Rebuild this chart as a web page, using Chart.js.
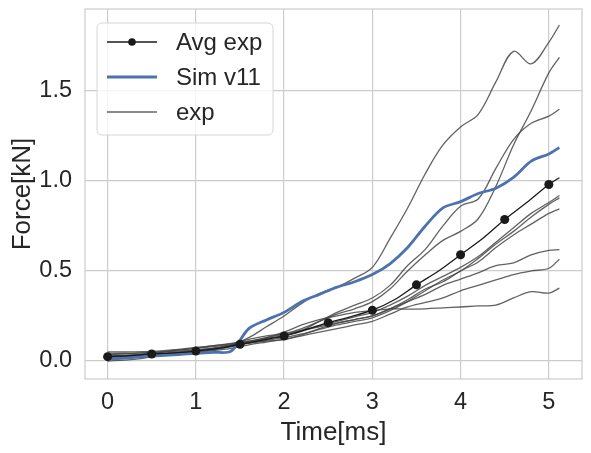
<!DOCTYPE html>
<html>
<head>
<meta charset="utf-8">
<script src="https://cdn.jsdelivr.net/npm/chart.js@4.4.0/dist/chart.umd.min.js"></script>
<style>
  html, body { margin: 0; padding: 0; background: #ffffff; }
</style>
</head>
<body>
<canvas id="forceChart" width="591" height="453"></canvas>
<script>
// time axes [ms]
const timeExp = [0, 0.2, 0.4, 0.6, 0.8, 1.0, 1.2, 1.4, 1.6, 1.8, 2.0, 2.2, 2.4, 2.6, 2.8,
                 3.0, 3.2, 3.4, 3.6, 3.8, 4.0, 4.2, 4.4, 4.6, 4.8, 5.0, 5.12];
const timeAvg = [0, 0.25, 0.5, 0.75, 1.0, 1.25, 1.5, 1.75, 2.0, 2.25, 2.5, 2.75,
                 3.0, 3.25, 3.5, 3.75, 4.0, 4.25, 4.5, 4.75, 5.0, 5.12];

// force [kN]
const avgExp = [0.024, 0.03, 0.039, 0.045, 0.055, 0.07, 0.093, 0.115, 0.139, 0.175, 0.213, 0.245,
                0.282, 0.34, 0.423, 0.5, 0.59, 0.68, 0.786, 0.88, 0.98, 1.018];
const simV11 = [0.01, 0.016, 0.024, 0.03, 0.036, 0.043, 0.048, 0.055, 0.18, 0.228, 0.27, 0.33, 0.37, 0.41, 0.44,
                0.48, 0.54, 0.63, 0.75, 0.85, 0.885, 0.93, 0.96, 1.02, 1.11, 1.15, 1.185];
const expRuns = [
  [0.03, 0.032, 0.036, 0.042, 0.05, 0.06, 0.072, 0.088, 0.13, 0.19, 0.25, 0.32, 0.375, 0.41, 0.46,
   0.52, 0.68, 0.85, 1.04, 1.2, 1.30, 1.37, 1.55, 1.72, 1.65, 1.77, 1.866],
  [0.05, 0.05, 0.052, 0.056, 0.065, 0.075, 0.085, 0.095, 0.11, 0.13, 0.15, 0.18, 0.22, 0.26, 0.29,
   0.33, 0.40, 0.50, 0.59, 0.67, 0.72, 0.79, 0.97, 1.2, 1.39, 1.6, 1.686],
  [0.02, 0.025, 0.03, 0.036, 0.045, 0.055, 0.068, 0.085, 0.105, 0.125, 0.14, 0.17, 0.22, 0.27, 0.31,
   0.35, 0.42, 0.53, 0.62, 0.75, 0.86, 0.90, 1.07, 1.23, 1.32, 1.36, 1.398],
  [0.01, 0.015, 0.025, 0.035, 0.045, 0.055, 0.068, 0.09, 0.11, 0.125, 0.14, 0.165, 0.195, 0.22, 0.245,
   0.27, 0.31, 0.36, 0.42, 0.47, 0.52, 0.58, 0.66, 0.74, 0.82, 0.88, 0.919],
  [0.0, 0.005, 0.015, 0.03, 0.04, 0.05, 0.062, 0.08, 0.1, 0.115, 0.13, 0.15, 0.175, 0.2, 0.22,
   0.24, 0.28, 0.33, 0.39, 0.45, 0.50, 0.57, 0.65, 0.72, 0.80, 0.87, 0.906],
  [0.04, 0.042, 0.045, 0.05, 0.06, 0.07, 0.08, 0.09, 0.1, 0.11, 0.12, 0.145, 0.18, 0.21, 0.23,
   0.25, 0.29, 0.34, 0.40, 0.44, 0.50, 0.55, 0.63, 0.70, 0.76, 0.82, 0.845],
  [0.025, 0.03, 0.038, 0.048, 0.06, 0.072, 0.085, 0.098, 0.12, 0.14, 0.15, 0.17, 0.19, 0.21, 0.23,
   0.25, 0.29, 0.33, 0.37, 0.42, 0.455, 0.49, 0.53, 0.545, 0.59, 0.615, 0.618],
  [0.015, 0.02, 0.025, 0.032, 0.04, 0.048, 0.058, 0.07, 0.09, 0.105, 0.12, 0.14, 0.16, 0.18, 0.2,
   0.22, 0.26, 0.30, 0.325, 0.35, 0.39, 0.42, 0.45, 0.48, 0.50, 0.515, 0.565],
  [0.035, 0.04, 0.045, 0.05, 0.055, 0.062, 0.07, 0.08, 0.1, 0.13, 0.16, 0.2, 0.23, 0.25, 0.27,
   0.28, 0.29, 0.288, 0.29, 0.295, 0.30, 0.306, 0.31, 0.35, 0.385, 0.377, 0.405]
];

const xTicks = [0, 1, 2, 3, 4, 5];
const yTicks = [0, 0.5, 1.0, 1.5];

const FONT = '"Liberation Sans", Arial, sans-serif';
const TEXT = '#262626';
const GRID = '#cccccc';
const EXP_COLOR = 'rgba(70,70,70,0.85)';
const SIM_COLOR = '#4c72b0';
const AVG_COLOR = '#1a1a1a';

const pairs = (xs, ys) => xs.map((t, i) => ({x: t, y: ys[i]}));

const datasets = [
  {
    label: 'Avg exp',
    data: pairs(timeAvg, avgExp),
    borderColor: AVG_COLOR,
    backgroundColor: AVG_COLOR,
    borderWidth: 1.3,
    pointRadius: ctx => ((timeAvg[ctx.dataIndex] * 2) % 1 === 0 ? 4.5 : 0),
    pointBorderWidth: 0,
    tension: 0.3,
    order: 0
  },
  {
    label: 'Sim v11',
    data: pairs(timeExp, simV11),
    borderColor: SIM_COLOR,
    borderWidth: 2.8,
    pointRadius: 0,
    tension: 0.3,
    order: 1
  }
];
expRuns.forEach(run => {
  datasets.push({
    label: 'exp',
    data: pairs(timeExp, run),
    borderColor: EXP_COLOR,
    borderWidth: 1.3,
    pointRadius: 0,
    tension: 0.35,
    order: 2
  });
});

// seaborn whitegrid has a light frame on all four sides
const framePlugin = {
  id: 'frame',
  beforeDatasetsDraw(chart) {
    const {ctx, chartArea: a} = chart;
    ctx.save();
    ctx.strokeStyle = GRID;
    ctx.lineWidth = 1.2;
    ctx.strokeRect(a.left, a.top, a.right - a.left, a.bottom - a.top);
    ctx.restore();
  }
};

// matplotlib style legend box in the upper left corner
const legendPlugin = {
  id: 'mplLegend',
  afterDraw(chart) {
    const ctx = chart.ctx;
    const seen = [];
    chart.data.datasets.forEach(ds => {
      if (!seen.find(s => s.label === ds.label)) seen.push(ds);
    });
    const x0 = 97, y0 = 23, w = 176, h = 112, r = 5;
    ctx.save();
    ctx.beginPath();
    ctx.roundRect(x0, y0, w, h, r);
    ctx.fillStyle = 'rgba(255,255,255,0.8)';
    ctx.fill();
    ctx.strokeStyle = '#d6d6d6';
    ctx.lineWidth = 1;
    ctx.stroke();

    ctx.font = '24px ' + FONT;
    ctx.textBaseline = 'middle';
    ctx.fillStyle = TEXT;
    seen.forEach((ds, i) => {
      const y = 42 + i * 35;
      ctx.beginPath();
      ctx.moveTo(107, y);
      ctx.lineTo(157, y);
      ctx.strokeStyle = ds.borderColor;
      ctx.lineWidth = ds.borderWidth;
      ctx.stroke();
      if (ds.label === 'Avg exp') {
        ctx.beginPath();
        ctx.arc(132, y, 3.8, 0, Math.PI * 2);
        ctx.fillStyle = AVG_COLOR;
        ctx.fill();
      }
      ctx.fillStyle = TEXT;
      ctx.fillText(ds.label, 176, y + 1);
    });
    ctx.restore();
  }
};

new Chart(document.getElementById('forceChart'), {
  type: 'line',
  data: {datasets: datasets},
  options: {
    responsive: false,
    animation: false,
    layout: {padding: {top: 9, right: 9, left: 0, bottom: 0}},
    plugins: {legend: {display: false}, tooltip: {enabled: false}},
    scales: {
      x: {
        type: 'linear',
        min: -0.256,
        max: 5.376,
        afterBuildTicks: scale => { scale.ticks = xTicks.map(v => ({value: v})); },
        afterFit: scale => {
          scale.height = 74;
          scale.paddingLeft = 0;
          scale.paddingRight = 0;
        },
        grid: {color: GRID, lineWidth: 1.2, drawTicks: false},
        border: {display: false},
        ticks: {
          color: TEXT,
          font: {family: FONT, size: 23.5},
          padding: 9,
          maxRotation: 0,
          callback: v => v.toFixed(0)
        },
        title: {
          display: true,
          text: 'Time[ms]',
          color: TEXT,
          font: {family: FONT, size: 26},
          padding: {top: 0, bottom: 5}
        }
      },
      y: {
        type: 'linear',
        min: -0.1,
        max: 1.955,
        afterBuildTicks: scale => { scale.ticks = yTicks.map(v => ({value: v})); },
        afterFit: scale => {
          scale.width = 85;
          scale.paddingTop = 0;
          scale.paddingBottom = 0;
        },
        grid: {color: GRID, lineWidth: 1.2, drawTicks: false},
        border: {display: false},
        ticks: {
          color: TEXT,
          font: {family: FONT, size: 23.5},
          padding: 13,
          callback: v => v.toFixed(1)
        },
        title: {
          display: true,
          text: 'Force[kN]',
          color: TEXT,
          font: {family: FONT, size: 26},
          padding: {top: 7, bottom: 0}
        }
      }
    }
  },
  plugins: [framePlugin, legendPlugin]
});
</script>
</body>
</html>
